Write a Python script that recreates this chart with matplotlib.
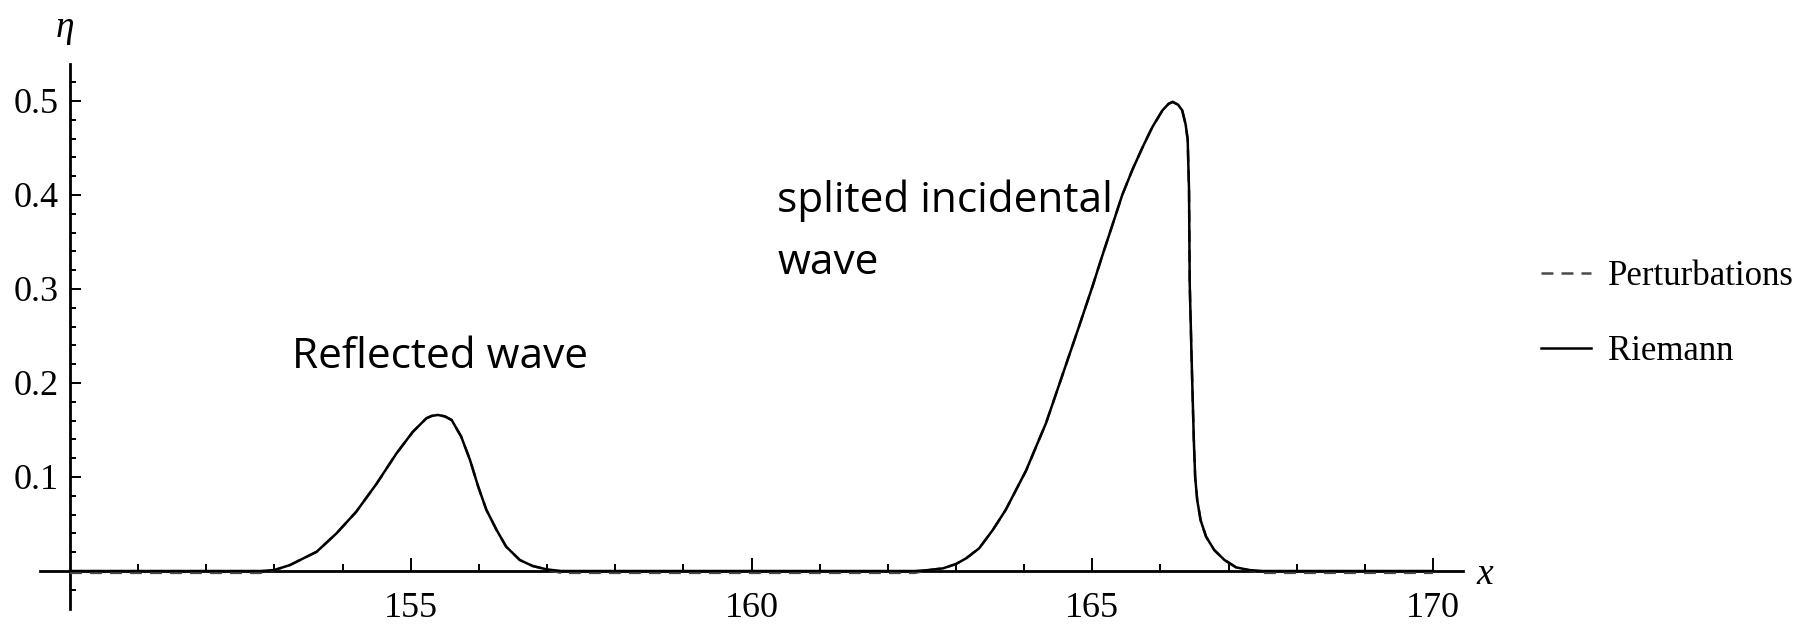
import matplotlib
matplotlib.use("Agg")
import matplotlib.pyplot as plt

plt.rcParams['lines.scale_dashes'] = False

# ---- data ----
x_values = [150.0, 152.8, 153.0, 153.23, 153.62, 153.91, 154.20, 154.50, 154.79,
            155.03, 155.23, 155.31, 155.40, 155.50, 155.60, 155.74, 155.87, 155.99,
            156.11, 156.26, 156.40, 156.60, 156.79, 156.99, 157.2, 162.4, 162.6,
            162.81, 163.00, 163.15, 163.34, 163.54, 163.73, 163.88, 164.03, 164.18,
            164.32, 164.57, 164.81, 165.00, 165.15, 165.30, 165.44, 165.59, 165.74,
            165.88, 166.03, 166.12, 166.18, 166.26, 166.32, 166.37, 166.40, 166.42,
            166.43, 166.46, 166.49, 166.51, 166.54, 166.59, 166.67, 166.79, 166.94,
            167.11, 167.3, 167.5, 170.0]

eta_riemann = [0.0, 0.0, 0.001, 0.0064, 0.0205, 0.040, 0.063, 0.093, 0.125,
               0.148, 0.1625, 0.165, 0.166, 0.1645, 0.1606, 0.143, 0.118, 0.0897,
               0.065, 0.0436, 0.0259, 0.0117, 0.0053, 0.0018, 0.0, 0.0, 0.001,
               0.0028, 0.0074, 0.0135, 0.0241, 0.0436, 0.065, 0.086, 0.107, 0.133,
               0.157, 0.210, 0.261, 0.302, 0.336, 0.369, 0.400, 0.427, 0.451,
               0.472, 0.490, 0.497, 0.499, 0.496, 0.490, 0.475, 0.459, 0.405,
               0.306, 0.22, 0.14, 0.10, 0.0755, 0.054, 0.0365, 0.0223, 0.0117,
               0.0039, 0.001, 0.0, 0.0]

eta_perturbations = [-0.002, -0.002, 0.001, 0.0064, 0.0205, 0.040, 0.063, 0.093, 0.125,
                     0.148, 0.1625, 0.165, 0.166, 0.1645, 0.1606, 0.143, 0.118, 0.0897,
                     0.065, 0.0436, 0.0259, 0.0117, 0.0053, 0.0018, -0.002, -0.002, 0.001,
                     0.0028, 0.0074, 0.0135, 0.0241, 0.0436, 0.065, 0.086, 0.107, 0.133,
                     0.157, 0.210, 0.261, 0.302, 0.336, 0.369, 0.400, 0.427, 0.451,
                     0.472, 0.490, 0.497, 0.499, 0.496, 0.490, 0.475, 0.459, 0.405,
                     0.306, 0.22, 0.14, 0.10, 0.0755, 0.054, 0.0365, 0.0223, 0.0117,
                     0.0039, 0.001, -0.002, -0.002]

x_major_ticks = [155, 160, 165, 170]
x_minor_ticks = [151, 152, 153, 154, 156, 157, 158, 159, 161, 162, 163, 164,
                 166, 167, 168, 169]
y_major_ticks = [0.1, 0.2, 0.3, 0.4, 0.5]
y_tick_labels = ["0.1", "0.2", "0.3", "0.4", "0.5"]
y_minor_ticks = [-0.02, 0.02, 0.04, 0.06, 0.08, 0.12, 0.14, 0.16, 0.18, 0.22, 0.24,
                 0.26, 0.28, 0.32, 0.34, 0.36, 0.38, 0.42, 0.44, 0.46, 0.48, 0.52]

series_labels = ["Perturbations", "Riemann"]

# ---- figure ----
W, H = 1816, 627
fig = plt.figure(figsize=(W / 100, H / 100), dpi=100)
ax = fig.add_axes([40 / W, 0.02935, 1423 / W, 0.8681])
ax.set_xlim(149.56, 170.44)
ax.set_ylim(-0.04, 0.539)

serif = "Liberation Serif"

ax.plot(x_values, eta_perturbations, color="#4a4a4a", lw=1.8,
        dashes=(8.6, 5.8), label=series_labels[0], zorder=3)
ax.plot(x_values, eta_riemann, color="black", lw=1.8,
        label=series_labels[1], zorder=4)

for s in ("top", "right"):
    ax.spines[s].set_visible(False)
ax.spines["left"].set_position(("data", 150))
ax.spines["bottom"].set_position(("data", 0))
for s in ("left", "bottom"):
    ax.spines[s].set_linewidth(2.0)

ax.set_xticks(x_major_ticks)
ax.set_xticklabels([str(v) for v in x_major_ticks])
ax.set_xticks(x_minor_ticks, minor=True)
ax.set_yticks(y_major_ticks)
ax.set_yticklabels(y_tick_labels)
ax.set_yticks(y_minor_ticks, minor=True)

ax.tick_params(axis="x", which="major", direction="in", length=9.5, width=1.4,
               pad=15, labelsize=26)
ax.tick_params(axis="x", which="minor", direction="in", length=5, width=1.4)
ax.tick_params(axis="y", which="major", direction="in", length=7.7, width=1.4,
               pad=8, labelsize=26)
ax.tick_params(axis="y", which="minor", direction="in", length=4.3, width=1.4)
for lab in ax.get_xticklabels() + ax.get_yticklabels():
    lab.set_fontfamily(serif)
for lab in ax.get_yticklabels():
    lab.set_verticalalignment("center_baseline")

# axis symbols
fig.text(1485 / W, 1 - 575 / H, "x", family=serif, style="italic", fontsize=27,
         ha="center", va="center")
fig.text(65 / W, 1 - 28 / H, "η", family=serif, style="italic", fontsize=27,
         ha="center", va="center")

# annotations
ax.text(153.26, 0.2277, "Reflected wave", family="Open Sans", fontsize=30.5,
        ha="left", va="center")
ax.text(160.38, 0.361, "splited incidental\nwave", family="Open Sans", fontsize=30.5,
        ha="left", va="center", linespacing=1.62)

# legend
leg = fig.legend(loc="center left", bbox_to_anchor=(1541 / W, 1 - 314 / H),
                 frameon=False, borderpad=0, borderaxespad=0,
                 handlelength=1.44, handletextpad=0.5, labelspacing=1.19,
                 prop={"family": serif, "size": 25})

fig.savefig("out.png", dpi=100)
